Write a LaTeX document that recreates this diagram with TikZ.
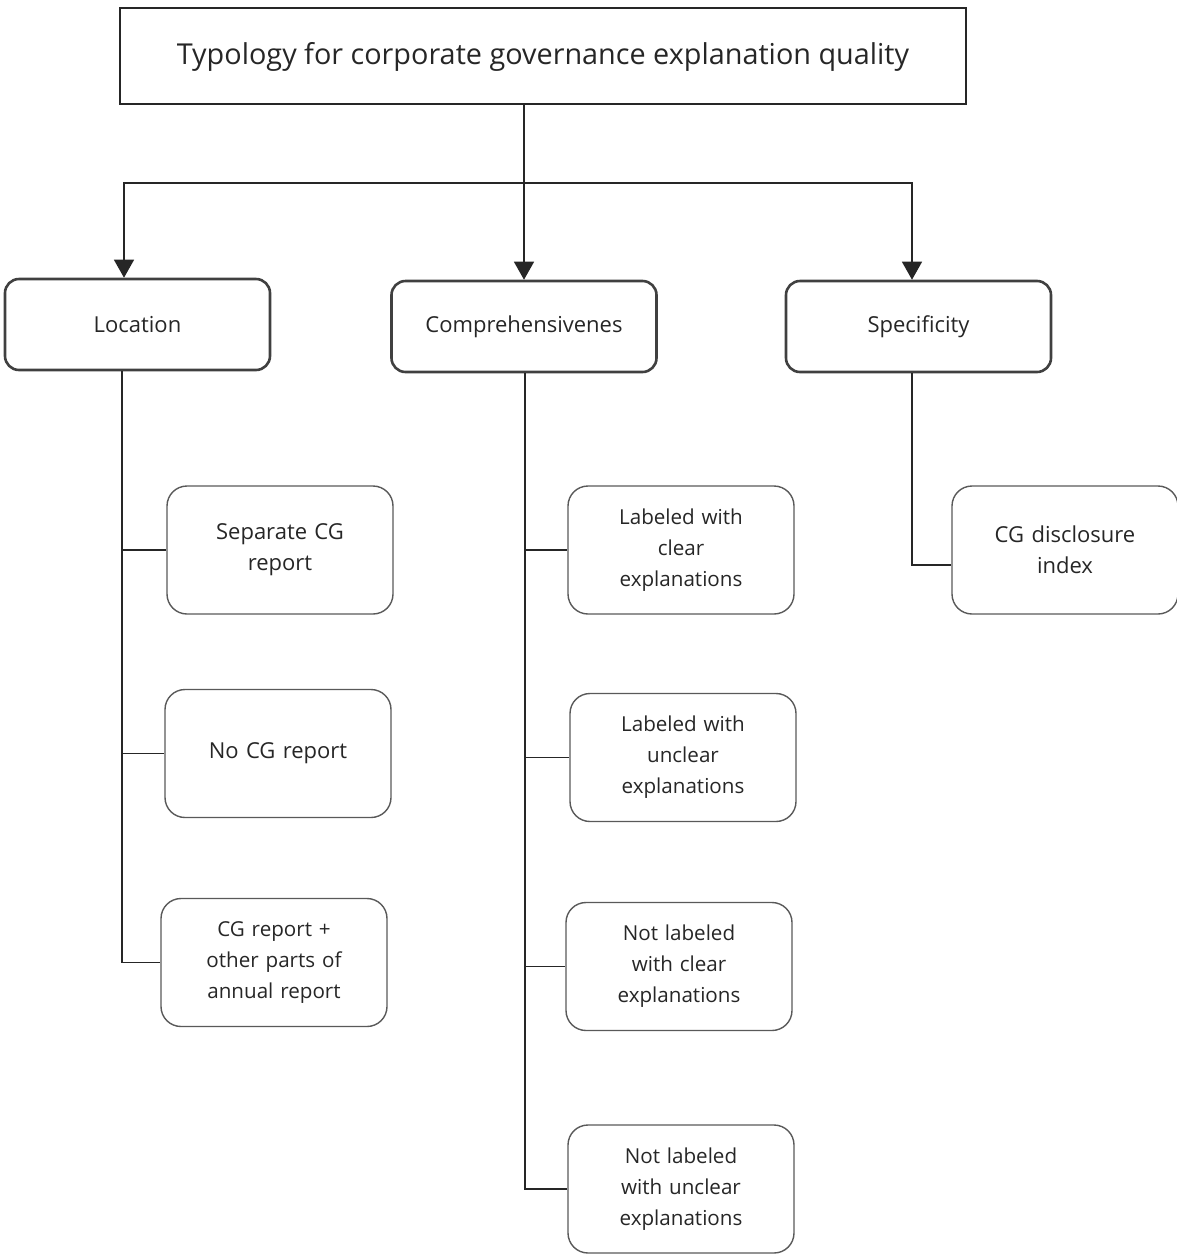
\documentclass[tikz,border=0pt]{standalone}
\usepackage{fontspec}
\setmainfont{Open Sans}
\usetikzlibrary{arrows.meta}
\tikzset{
  topbox/.style={draw=black!85, line width=1pt, minimum width=423pt, minimum height=48pt, text=black!85, font=\fontsize{14.4}{17}\selectfont},
  catbox/.style={draw=black!75, line width=1.3pt, rounded corners=7pt, minimum width=132.5pt, minimum height=45.5pt, text=black!85, font=\fontsize{11}{14}\selectfont},
  subbox/.style={draw=black!65, line width=0.7pt, rounded corners=10pt, minimum width=113pt, minimum height=64pt, text width=105pt, align=center, text=black!85, font=\fontsize{11}{15.5}\selectfont},
  smallsub/.style={subbox, font=\fontsize{10.3}{15.5}\selectfont},
  link/.style={draw=black!85, line width=0.7pt},
  arrowlink/.style={link, -{Triangle[length=9pt,width=10pt]}}
}

\begin{document}
\begin{tikzpicture}[x=0.5pt, y=-0.5pt]
    \useasboundingbox (0,0) rectangle (1177,1259);

    \node[topbox, text depth=3pt] (TY) at (543,56) {Typology for corporate governance explanation quality};

    \node[catbox] (LO) at (137.5,324.5) {Location};
    \node[catbox] (CO) at (524,326.5) {Comprehensivenes};
    \node[catbox] (SP) at (918.5,326.5) {Specificity};

    \node[subbox] (SE) at (280,550) {Separate CG\\report};
    \node[subbox] (NO) at (278,753.5) {No CG report};
    \node[smallsub] (AR) at (274,962.5) {CG report +\\other parts of\\annual report};

    \node[smallsub] (LC) at (681,550) {Labeled with\\clear\\explanations};
    \node[smallsub] (LU) at (683,757.5) {Labeled with\\unclear\\explanations};
    \node[smallsub] (NC) at (679,966.5) {Not labeled\\with clear\\explanations};
    \node[smallsub] (NU) at (681,1189) {Not labeled\\with unclear\\explanations};

    \node[subbox] (IX) at (1065,550) {CG disclosure\\index};

    \coordinate (BAR) at (524,183);
    \draw[link] (TY.south -| BAR) -- (BAR);
    \draw[arrowlink] (BAR) -| ([xshift=-6.75pt]LO.north);
    \draw[arrowlink] (BAR) -- (CO.north);
    \draw[arrowlink] (BAR) -| ([xshift=-3.25pt]SP.north);

    \draw[link] ([xshift=-7.75pt]LO.south) |- (SE.west);
    \draw[link] ([xshift=-7.75pt]LO.south) |- (NO.west);
    \draw[link] ([xshift=-7.75pt]LO.south) |- (AR.west);

    \draw[link] ([xshift=0.5pt]CO.south) |- (LC.west);
    \draw[link] ([xshift=0.5pt]CO.south) |- (LU.west);
    \draw[link] ([xshift=0.5pt]CO.south) |- (NC.west);
    \draw[link] ([xshift=0.5pt]CO.south) |- (NU.west);

    \draw[link] ([xshift=-3.25pt]SP.south) |- ([yshift=-7.5pt]IX.west);
\end{tikzpicture}
\end{document}
